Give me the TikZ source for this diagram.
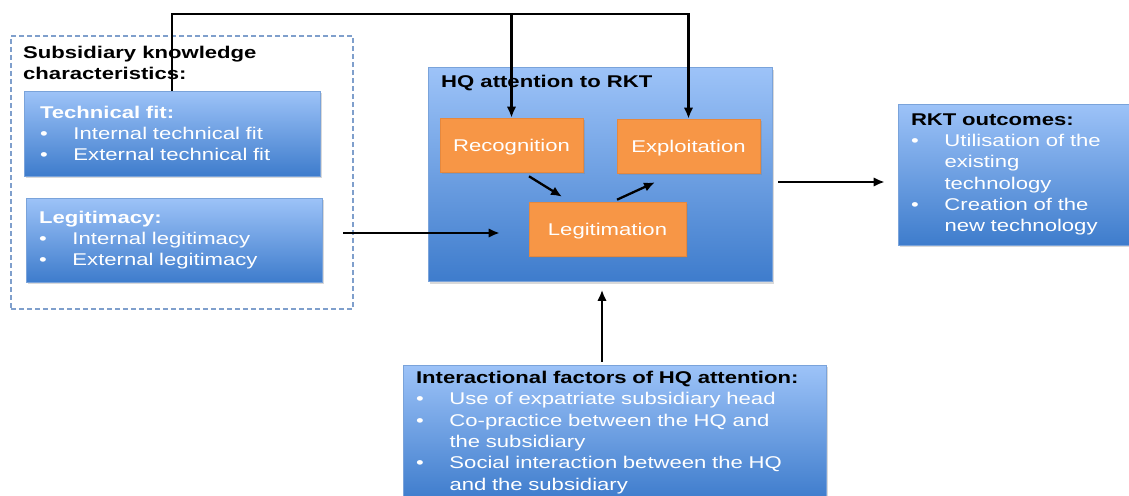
\documentclass[tikz,border=0pt]{standalone}
\usepackage{fontspec}
\setmainfont{Liberation Sans}[FakeStretch=1.3]
\usepackage{xcolor}
\definecolor{BoxTop}{HTML}{9DC3F8}
\definecolor{BoxBot}{HTML}{3E7CCC}
\definecolor{BoxEdge}{HTML}{7AA3DA}
\definecolor{Tang}{HTML}{F79646}
\definecolor{TangEdge}{HTML}{E5883E}
\definecolor{FrameBlue}{HTML}{7F9FCC}
\usepackage{tikz}
\usetikzlibrary{arrows.meta,positioning,calc,shadows}

\newcommand{\itm}{\makebox[33.5pt][l]{\textbullet}}
\newcommand{\cnt}{\hspace*{33.5pt}}

\begin{document}
\begin{tikzpicture}[
  x=1pt, y=-1pt,
  font=\fontsize{17}{21.3}\selectfont,
  blubox/.style={draw=BoxEdge, line width=0.6pt, top color=BoxTop, bottom color=BoxBot,
                 drop shadow={shadow xshift=1.5pt, shadow yshift=-2pt, opacity=0.3},
                 text=white, align=left, inner xsep=13pt},
  orbox/.style={draw=TangEdge, line width=0.6pt, fill=Tang, text=white,
                minimum width=143pt, minimum height=54pt, text height=12pt, text depth=0pt,
                drop shadow={shadow xshift=1.5pt, shadow yshift=-2pt, opacity=0.3}},
  arr/.style={-{Latex[length=11pt,width=9.5pt]}, line width=2.3pt}
]
  \clip (0,0) rectangle (1129,495);
  % subsidiary side
  \node[draw=FrameBlue, dashed, dash pattern=on 5pt off 3pt, line width=1.4pt,
        minimum width=342pt, minimum height=273pt] (subfr) at (182,172.5) {};
  \node[anchor=west, align=left, inner sep=0pt,
        font=\fontsize{17}{21.3}\selectfont\bfseries] (subttl) at (23,63)
    {Subsidiary knowledge\\characteristics:};
  \node[blubox, text width=264pt, inner xsep=16pt, minimum height=85pt]
    (techfit) at (172,133.5)
    {\textbf{Technical fit:}\\\itm Internal technical fit\\\itm External technical fit};
  \node[blubox, text width=270pt, minimum height=84pt] (legit) at (174,240)
    {\textbf{Legitimacy:}\\\itm Internal legitimacy\\\itm External legitimacy};
  % HQ attention
  \node[blubox, minimum width=344pt, minimum height=214pt] (hq) at (600,174.5) {};
  \node[anchor=west, inner sep=0pt] (hqttl) at (441,83) {\textbf{HQ attention to RKT}};
  \node[orbox] (recog) at (511.5,145) {Recognition};
  \node[orbox] (exploit) at (688.5,146) {Exploitation};
  \node[orbox, minimum width=157pt] (legitim) at (607.5,229) {Legitimation};
  % outcomes and factors
  \node[blubox, text width=220pt, minimum height=141pt] (rkt) at (1021,174.5)
    {\textcolor{black}{\textbf{RKT outcomes:}}\\\itm Utilisation of the\\\cnt existing\\
     \cnt technology\\\itm Creation of the\\\cnt new technology};
  \node[blubox, text width=397pt, minimum height=135pt] (ifac) at (614.5,432.5)
    {\textcolor{black}{\textbf{Interactional factors of HQ attention:}}\\
     \itm Use of expatriate subsidiary head\\\itm Co-practice between the HQ and\\
     \cnt the subsidiary\\\itm Social interaction between the HQ\\\cnt and the subsidiary};
  % connectors
  \coordinate (topbar) at (172,14);
  \draw[arr] (techfit.north) |- (topbar) -| (exploit.north);
  \draw[arr] (recog.north |- topbar) -- (recog.north);
  \draw[arr] ($(legit.east)+(21,-7)$) -- ($(legitim.west)+(-29,4)$);
  \draw[arr] ($(recog.south)+(17.5,4)$) -- ($(legitim.north)+(-45.5,-5)$);
  \draw[arr] ($(legitim.north)+(9.5,-2)$) -- ($(exploit.south)+(-33.5,9)$);
  \draw[arr] ($(hq.east)+(6,7.5)$) -- ($(hq.east -| rkt.west)+(-13,7.5)$);
  \draw[arr] ($(hq.south |- ifac.north)+(2,-3)$) -- ($(hq.south)+(2,8)$);
\end{tikzpicture}
\end{document}
